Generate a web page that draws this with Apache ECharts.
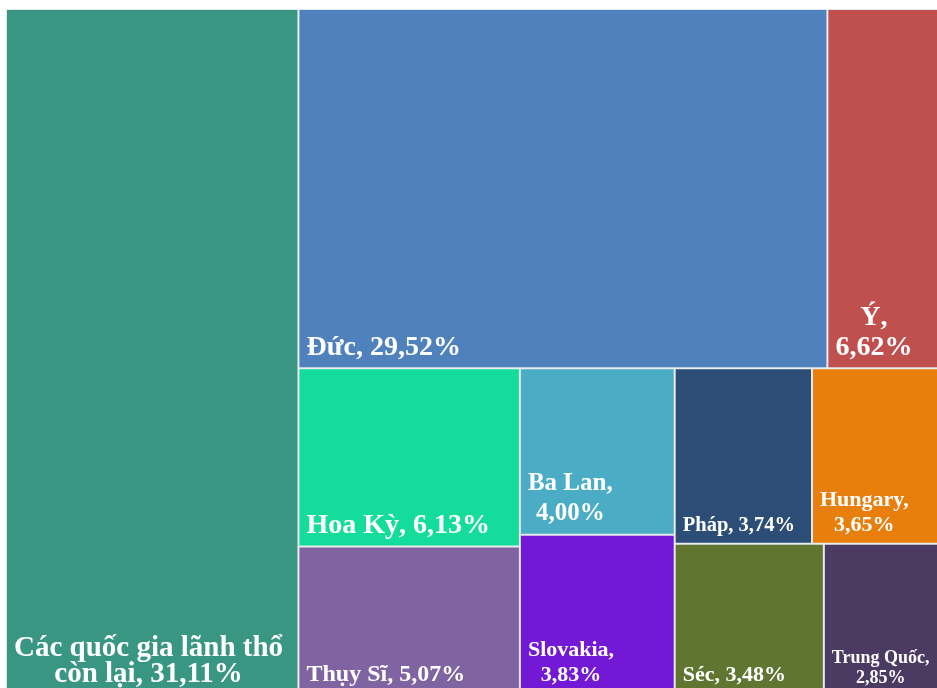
<!DOCTYPE html>
<html>
<head>
<meta charset="utf-8">
<script src="https://cdn.jsdelivr.net/npm/echarts@6/dist/echarts.min.js"></script>
<style>
html, body { margin: 0; padding: 0; background: #fff; }
#chart { width: 937px; height: 688px; }
</style>
</head>
<body>
<div id="chart"></div>
<script>
var countries = ['Các quốc gia lãnh thổ còn lại', 'Đức', 'Ý', 'Hoa Kỳ', 'Thụy Sĩ', 'Ba Lan', 'Slovakia', 'Pháp', 'Hungary', 'Séc', 'Trung Quốc'];
var shares = [31.11, 29.52, 6.62, 6.13, 5.07, 4.00, 3.83, 3.74, 3.65, 3.48, 2.85];
var colors = ['#389683', '#4f81bd', '#c0504d', '#14dd9b', '#8064a2', '#4bacc6', '#7318d4', '#2c4d75', '#e87f0c', '#5f7530', '#4b3b62'];

// where the label wraps: 'value' = before the percentage, a word = before that word
var labelBreak = ['còn lại', '', 'value', '', '', 'value', 'value', '', 'value', '', 'value'];
var labelSize = [29, 28, 28, 28, 24, 25, 22, 20.5, 22, 22, 18];
var labelLineHeight = [26, 30, 30, 30, 26, 30, 25, 24, 25, 25, 20];

// nesting of the blocks (indices into the arrays above)
var groups = [0, [[1, 2], [[3, 4], [5, 6], [[7, 8], [9, 10]]]]];

var fontFamily = '"Liberation Serif", "Times New Roman", serif';
var ctx = document.createElement('canvas').getContext('2d');

function pct(v) {
	return v.toFixed(2).replace('.', ',') + '%';
}

function labelText(i) {
	var b = labelBreak[i];
	if (b === 'value') return countries[i] + ',\n' + pct(shares[i]);
	var t = countries[i] + ', ' + pct(shares[i]);
	if (b) t = t.replace(' ' + b, '\n' + b);
	return t;
}

function leaf(i) {
	var text = labelText(i);
	ctx.font = 'bold ' + labelSize[i] + 'px ' + fontFamily;
	var maxW = 0;
	text.split('\n').forEach(function(line) {
		maxW = Math.max(maxW, ctx.measureText(line).width);
	});
	return {
		name: countries[i],
		value: shares[i],
		itemStyle: {
			color: colors[i],
			borderWidth: 1,
			borderColor: '#e3e9ec'
		},
		label: {
			fontSize: labelSize[i],
			lineHeight: labelLineHeight[i],
			offset: [maxW / 2 + 2, 0],
			formatter: text
		}
	};
}

function build(g) {
	if (typeof g === 'number') return leaf(g);
	return { name: '', children: g.map(build) };
}

var chart = echarts.init(document.getElementById('chart'));

var option = {
	animation: false,
	series: [{
		type: 'treemap',
		left: 6,
		top: 9,
		width: 940,
		height: 685,
		roam: false,
		nodeClick: false,
		sort: false,
		squareRatio: 1,
		visibleMin: 0,
		breadcrumb: { show: false },
		itemStyle: {
			borderWidth: 0,
			gapWidth: 0,
			borderColor: '#fff'
		},
		label: {
			show: true,
			position: 'insideBottomLeft',
			distance: 5,
			padding: 0,
			color: '#fff',
			fontFamily: fontFamily,
			fontWeight: 'bold',
			align: 'center',
			overflow: 'none'
		},
		data: build(groups).children
	}]
};

chart.setOption(option);
</script>
</body>
</html>
